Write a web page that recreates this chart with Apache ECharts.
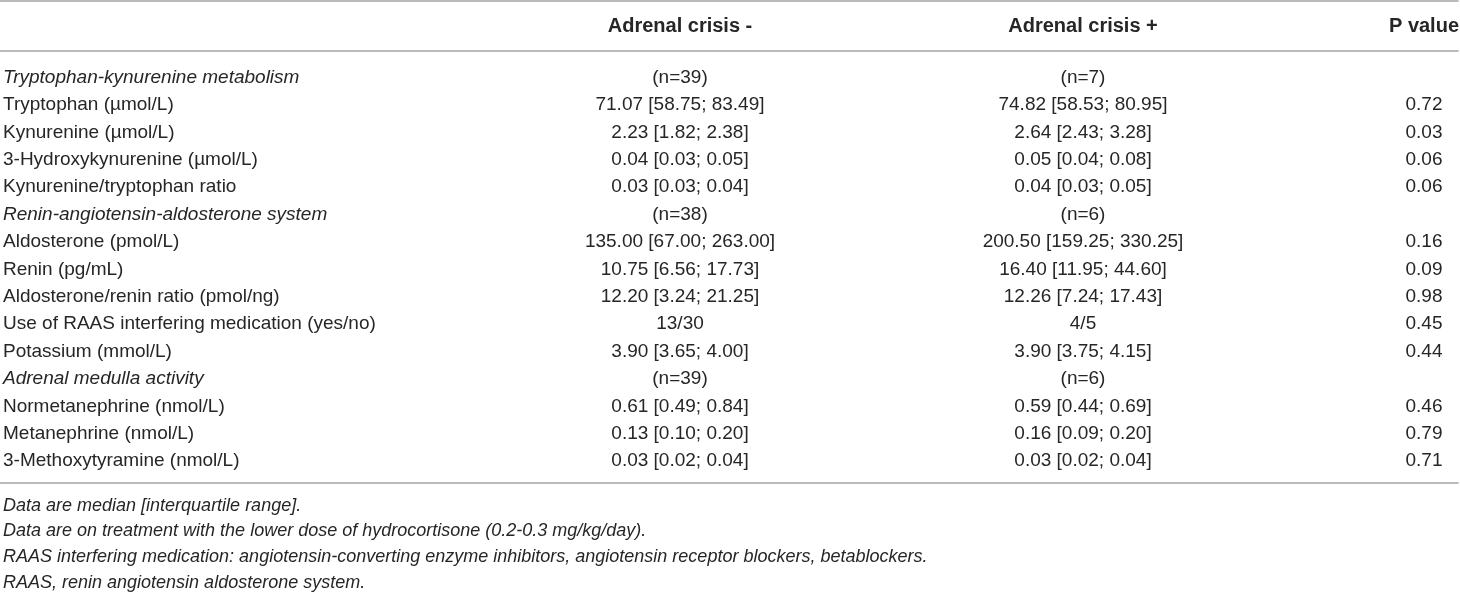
<!DOCTYPE html>
<html>
<head>
<meta charset="utf-8">
<title>Adrenal crisis table</title>
<script src="https://cdn.jsdelivr.net/npm/echarts@6/dist/echarts.min.js"></script>
<style>
  html, body { margin: 0; padding: 0; background: #fff; }
  #chart1 { width: 1460px; height: 592px; }
</style>
</head>
<body>
<div id="chart1"></div>
<script>
// table content
const headers = ['', 'Adrenal crisis -', 'Adrenal crisis +', 'P value'];

const rowLabels = [
    'Tryptophan-kynurenine metabolism',
    'Tryptophan (µmol/L)',
    'Kynurenine (µmol/L)',
    '3-Hydroxykynurenine (µmol/L)',
    'Kynurenine/tryptophan ratio',
    'Renin-angiotensin-aldosterone system',
    'Aldosterone (pmol/L)',
    'Renin (pg/mL)',
    'Aldosterone/renin ratio (pmol/ng)',
    'Use of RAAS interfering medication (yes/no)',
    'Potassium (mmol/L)',
    'Adrenal medulla activity',
    'Normetanephrine (nmol/L)',
    'Metanephrine (nmol/L)',
    '3-Methoxytyramine (nmol/L)'
];

// rows that are section titles (italic)
const sectionRows = [0, 5, 11];

const crisisNeg = [
    '(n=39)',
    '71.07 [58.75; 83.49]',
    '2.23 [1.82; 2.38]',
    '0.04 [0.03; 0.05]',
    '0.03 [0.03; 0.04]',
    '(n=38)',
    '135.00 [67.00; 263.00]',
    '10.75 [6.56; 17.73]',
    '12.20 [3.24; 21.25]',
    '13/30',
    '3.90 [3.65; 4.00]',
    '(n=39)',
    '0.61 [0.49; 0.84]',
    '0.13 [0.10; 0.20]',
    '0.03 [0.02; 0.04]'
];

const crisisPos = [
    '(n=7)',
    '74.82 [58.53; 80.95]',
    '2.64 [2.43; 3.28]',
    '0.05 [0.04; 0.08]',
    '0.04 [0.03; 0.05]',
    '(n=6)',
    '200.50 [159.25; 330.25]',
    '16.40 [11.95; 44.60]',
    '12.26 [7.24; 17.43]',
    '4/5',
    '3.90 [3.75; 4.15]',
    '(n=6)',
    '0.59 [0.44; 0.69]',
    '0.16 [0.09; 0.20]',
    '0.03 [0.02; 0.04]'
];

const pValues = [
    '', '0.72', '0.03', '0.06', '0.06',
    '', '0.16', '0.09', '0.98', '0.45', '0.44',
    '', '0.46', '0.79', '0.71'
];

const footnotes = [
    'Data are median [interquartile range].',
    'Data are on treatment with the lower dose of hydrocortisone (0.2-0.3 mg/kg/day).',
    'RAAS interfering medication: angiotensin-converting enzyme inhibitors, angiotensin receptor blockers, betablockers.',
    'RAAS, renin angiotensin aldosterone system.'
];

// layout: x anchor of each column (label column is left aligned, others centred)
const colX = [3, 680, 1083, 1424];
const colAlign = ['left', 'center', 'center', 'center'];
const FONT = '"Liberation Sans", Arial, Helvetica, sans-serif';
const TEXT_COLOR = '#262626';
const RULE = { show: true, lineStyle: { color: '#a3a3a3', width: 1.5 } };

let chart1;

// build the cell lists from the arrays
const headerCells = [];
for (let c = 1; c < headers.length; c++) {
    headerCells.push({ value: [c, 0], text: headers[c] });
}

const bodyCells = [];
const bodyColumns = [rowLabels, crisisNeg, crisisPos, pValues];
for (let r = 0; r < rowLabels.length; r++) {
    for (let c = 0; c < bodyColumns.length; c++) {
        let t = bodyColumns[c][r];
        if (t === '') continue;
        bodyCells.push({
            value: [c, r],
            text: t,
            italic: c === 0 && sectionRows.includes(r)
        });
    }
}

const footCells = [];
for (let r = 0; r < footnotes.length; r++) {
    footCells.push({ value: [0, r], text: footnotes[r] });
}

function makeRender(cells, opts) {
    return function (params, api) {
        let cell = cells[params.dataIndex];
        let c = api.value(0);
        let r = api.value(1);
        let pt = api.coord([colX[c], r]);
        return {
            type: 'text',
            x: pt[0],
            y: pt[1],
            style: {
                text: cell.text,
                fill: TEXT_COLOR,
                fontFamily: FONT,
                fontSize: opts.fontSize,
                fontWeight: opts.bold ? 'bold' : 'normal',
                fontStyle: (opts.italic || cell.italic) ? 'italic' : 'normal',
                align: colAlign[c],
                verticalAlign: 'middle'
            }
        };
    };
}

function hiddenX(gridIndex, position, line) {
    return {
        type: 'value',
        gridIndex: gridIndex,
        position: position,
        min: 0,
        max: 1458,
        axisLine: line ? Object.assign({ onZero: false }, RULE) : { show: false },
        axisTick: { show: false },
        axisLabel: { show: false },
        splitLine: { show: false }
    };
}

function hiddenY(gridIndex, min, max) {
    return {
        type: 'value',
        gridIndex: gridIndex,
        inverse: true,
        min: min,
        max: max,
        axisLine: { show: false },
        axisTick: { show: false },
        axisLabel: { show: false },
        splitLine: { show: false }
    };
}

function initCharts() {
    chart1 = echarts.init(document.getElementById('chart1'));

    let option = {
        animation: false,
        grid: [
            { left: 0, width: 1458, top: 1, height: 50 },    // header
            { left: 0, width: 1458, top: 51, height: 432 },  // body
            { left: 0, width: 1458, top: 483, height: 109 }  // footnotes
        ],
        xAxis: [
            hiddenX(0, 'top', true),
            hiddenX(0, 'bottom', true),
            hiddenX(1, 'bottom', true),
            hiddenX(2, 'bottom', false)
        ],
        yAxis: [
            hiddenY(0, -0.5, 0.5),
            hiddenY(1, -0.97, 14.8),
            hiddenY(2, -0.88, 3.36)
        ],
        series: [
            {
                name: 'header',
                type: 'custom',
                xAxisIndex: 0,
                yAxisIndex: 0,
                clip: false,
                renderItem: makeRender(headerCells, { fontSize: 20, bold: true }),
                data: headerCells.map(d => d.value)
            },
            {
                name: 'body',
                type: 'custom',
                xAxisIndex: 2,
                yAxisIndex: 1,
                clip: false,
                renderItem: makeRender(bodyCells, { fontSize: 19 }),
                data: bodyCells.map(d => d.value)
            },
            {
                name: 'footnotes',
                type: 'custom',
                xAxisIndex: 3,
                yAxisIndex: 2,
                clip: false,
                renderItem: makeRender(footCells, { fontSize: 18, italic: true }),
                data: footCells.map(d => d.value)
            }
        ]
    };
    chart1.setOption(option);
}

document.addEventListener('DOMContentLoaded', function () {
    initCharts();
});

window.addEventListener('resize', function () {
    chart1.resize();
});
</script>
</body>
</html>
